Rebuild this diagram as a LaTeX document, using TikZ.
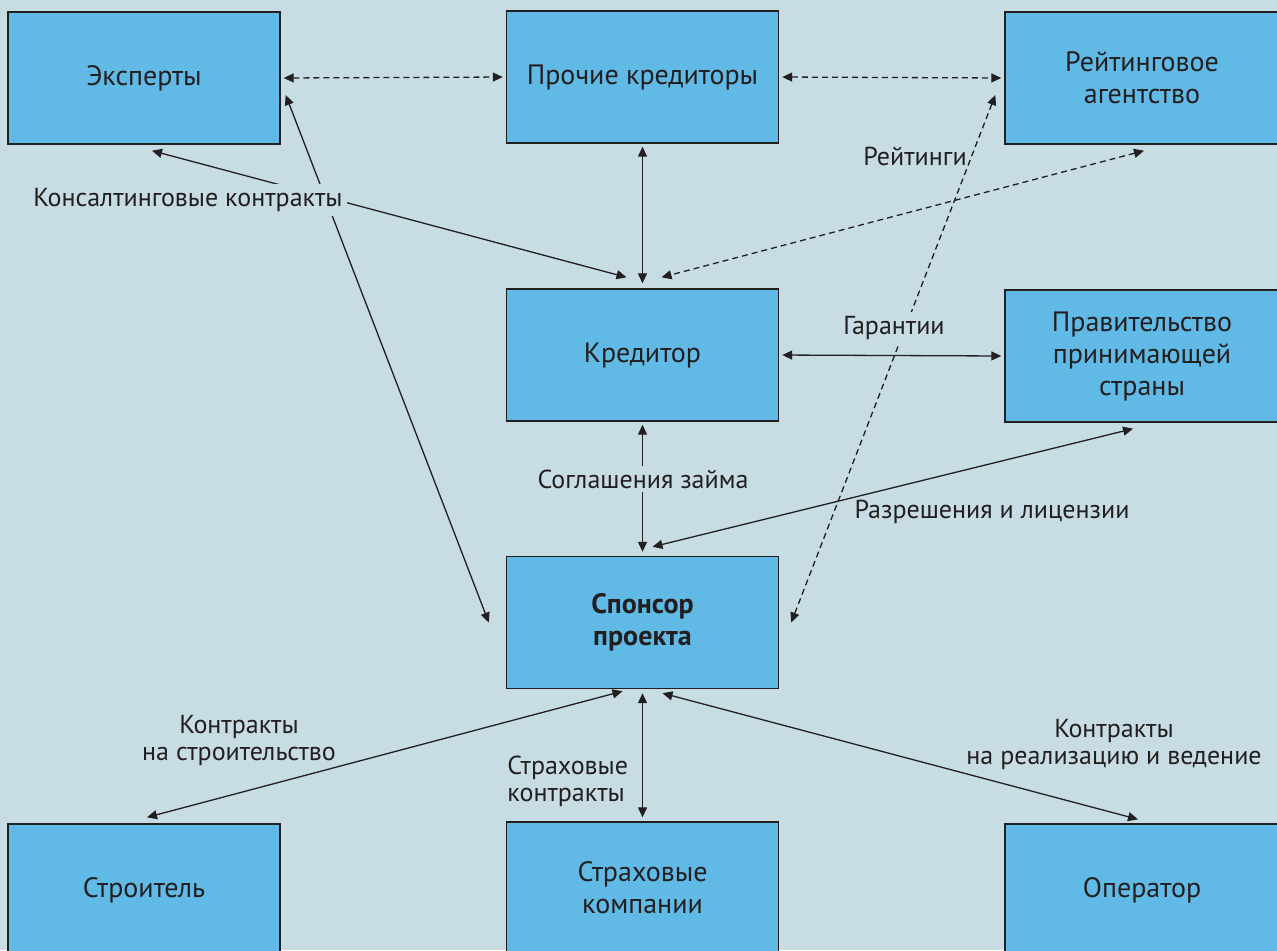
\documentclass[tikz,border=0pt]{standalone}
\usepackage{fontspec}
\setmainfont{PT Sans}
\usetikzlibrary{arrows.meta}
\definecolor{bgcol}{RGB}{199,220,227}
\definecolor{boxcol}{RGB}{97,185,229}
\definecolor{inkcol}{RGB}{35,31,32}

\begin{document}
\begin{tikzpicture}[
    x=0.5pt, y=-0.5pt,
    block/.style={rectangle, draw=inkcol, line width=0.7pt, fill=boxcol, align=center, minimum width=136pt, minimum height=66pt, inner sep=0pt, text=inkcol, font=\fontsize{14}{16}\selectfont},
    wideblock/.style={block, minimum width=137pt},
    lbl/.style={align=center, inner sep=2pt, text=inkcol, font=\fontsize{13}{13.5}\selectfont},
    cutlbl/.style={lbl, fill=bgcol},
    arrow/.style={{Triangle[length=5pt,width=4.5pt]}-{Triangle[length=5pt,width=4.5pt]}, line width=0.65pt, draw=inkcol},
    dasharrow/.style={arrow, dash pattern=on 3pt off 2pt}
]
\fill[bgcol] (0,0) rectangle (1277,950);
\useasboundingbox (0,0) rectangle (1277,950);
\clip (0,0) rectangle (1277,950);

\node[block] (experts) at (144,78) {Эксперты};
\node[block] (others) at (642.5,77) {Прочие кредиторы};
\node[wideblock] (rating) at (1142,78) {Рейтинговое\\агентство};
\node[block] (creditor) at (642.5,355) {Кредитор};
\node[wideblock] (gov) at (1142,356) {Правительство\\принимающей\\страны};
\node[block] (sponsor) at (642.5,622.5) {\bfseries Спонсор\\\bfseries проекта};
\node[block] (builder) at (144,890) {Строитель};
\node[block] (insurers) at (642.5,888) {Страховые\\компании};
\node[wideblock] (operator) at (1142,890) {Оператор};

\draw[dasharrow, shorten <=1.5pt, shorten >=1.5pt] (experts.east) -- (others.west);
\draw[dasharrow, shorten <=1.5pt, shorten >=1.5pt] (others.east) -- (rating.west);
\draw[arrow, shorten <=1.5pt, shorten >=2.5pt] (others.south) -- (creditor.north);
\draw[arrow] ([shift={(8,6)}]experts.south) -- ([shift={(-16,-11)}]creditor.north);
\draw[arrow] ([shift={(5,17)}]experts.east) -- ([shift={(-17,0)}]sponsor.west);
\draw[dasharrow] ([shift={(2,6)}]rating.south) -- ([shift={(19,-11)}]creditor.north);
\draw[dasharrow] ([shift={(-9,17)}]rating.west) -- ([shift={(12,0)}]sponsor.east);
\draw[arrow, shorten <=1.5pt, shorten >=1.5pt] (creditor.east) -- (gov.west);
\draw[arrow, shorten <=1.5pt, shorten >=2pt] (creditor.south) -- (sponsor.north);
\draw[arrow] ([shift={(-9,6)}]gov.south) -- ([shift={(10,-9)}]sponsor.north);
\draw[arrow] ([shift={(-20,2)}]sponsor.south) -- ([shift={(3,-6)}]builder.north);
\draw[arrow, shorten <=2pt, shorten >=2pt] (sponsor.south) -- (insurers.north);
\draw[arrow] ([shift={(20,4)}]sponsor.south) -- ([shift={(-4,-4)}]operator.north);

\node[cutlbl] (consult) at (188,200) {Консалтинговые контракты};
\node[lbl] (ratings) at (915,156) {Рейтинги};
\node[cutlbl] (guarant) at (894,328) {Гарантии};
\node[cutlbl] (loan) at (643,479) {Соглашения займа};
\node[lbl] (permits) at (992,512) {Разрешения и лицензии};
\node[lbl] (buildc) at (239,740) {Контракты\\на строительство};
\node[lbl, align=left, anchor=west] (insurec) at (503,781) {Страховые\\контракты};
\node[lbl] (operc) at (1114,744) {Контракты\\на реализацию и ведение};
\end{tikzpicture}
\end{document}
